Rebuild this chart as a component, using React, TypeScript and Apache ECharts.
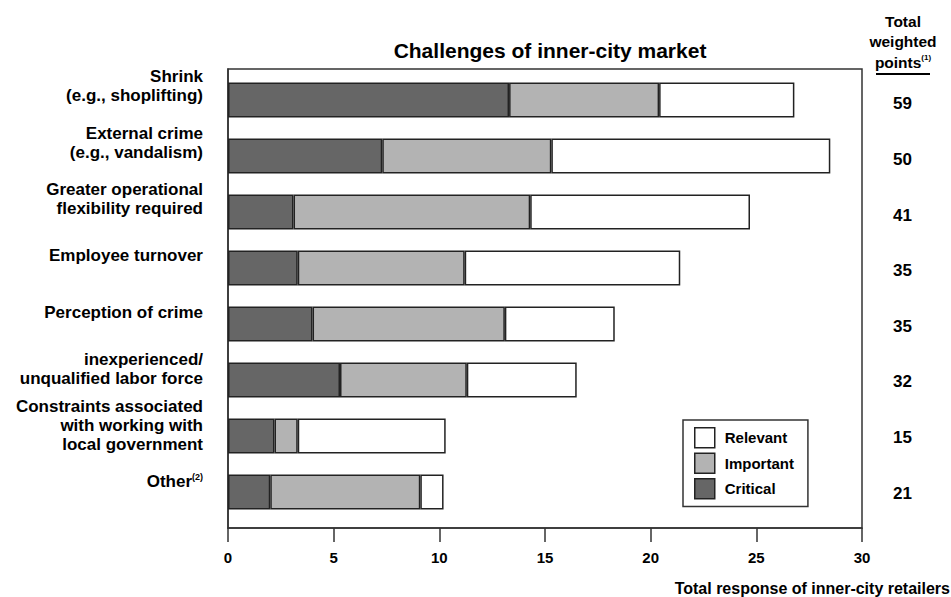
import React, { useEffect, useRef } from "react";
import * as echarts from "echarts";

const categories = [
  "Shrink\n(e.g., shoplifting)",
  "External crime\n(e.g., vandalism)",
  "Greater operational\nflexibility required",
  "Employee turnover",
  "Perception of crime",
  "inexperienced/\nunqualified labor force",
  "Constraints associated\nwith working with\nlocal government",
  "Other{sup|(2)}",
];
const critical = [13.3, 7.3, 3.1, 3.3, 4.0, 5.3, 2.2, 2.0];
const important = [7.1, 8.0, 11.2, 7.9, 9.1, 6.0, 1.1, 7.1];
const relevant = [6.4, 13.2, 10.4, 10.2, 5.2, 5.2, 7.0, 1.1];
const weightedPoints = [59, 50, 41, 35, 35, 32, 15, 21];
const xTicks = { min: 0, max: 30, interval: 5 };

const FONT = "'Liberation Sans', Arial, Helvetica, sans-serif";
const BORDER = "#222";

export default function App() {
  const ref = useRef<HTMLDivElement>(null);
  useEffect(() => {
    if (!ref.current) return;
    const chart = echarts.init(ref.current, undefined, { renderer: "svg" });
    const barStyle = (color: string) => ({
      color,
      borderColor: BORDER,
      borderWidth: 1.5,
    });
    const hiddenX = (gridIndex: number) => ({
      type: "value",
      gridIndex,
      min: xTicks.min,
      max: xTicks.max,
      interval: xTicks.interval,
      show: false,
    });
    const barSeries = (name: string, data: number[], color: string) => ({
      name,
      type: "bar",
      stack: "total",
      barWidth: 35,
      xAxisIndex: 1,
      yAxisIndex: 1,
      data,
      itemStyle: barStyle(color),
    });
    chart.setOption({
      animation: false,
      backgroundColor: "#fff",
      textStyle: { fontFamily: FONT },
      grid: [
        {
          left: 228,
          right: 89,
          top: 69,
          bottom: 69,
          show: true,
          borderColor: "#333",
          borderWidth: 1.5,
        },
        { left: 228, right: 89, top: 72, bottom: 77 },
        { left: 228, right: 89, top: 58, bottom: 87 },
        { left: 228, right: 89, top: 76, bottom: 76 },
      ],
      legend: {
        orient: "vertical",
        left: 683,
        top: 420,
        data: ["Relevant", "Important", "Critical"],
        icon: "rect",
        itemWidth: 20,
        itemHeight: 20,
        itemGap: 4,
        padding: [7, 14, 7, 11],
        borderColor: "#333",
        borderWidth: 1.5,
        backgroundColor: "#fff",
        itemStyle: { borderColor: BORDER, borderWidth: 1.5 },
        textStyle: {
          fontFamily: FONT,
          fontSize: 15,
          fontWeight: "bold",
          color: "#000",
          padding: [0, 0, 0, 5],
        },
      },
      xAxis: [
        {
          type: "value",
          gridIndex: 0,
          min: xTicks.min,
          max: xTicks.max,
          interval: xTicks.interval,
          splitLine: { show: false },
          axisLine: { show: true, lineStyle: { color: "#333", width: 1.5 } },
          axisTick: { show: true, length: 14, lineStyle: { color: "#333", width: 1.5 } },
          axisLabel: {
            margin: 22,
            fontFamily: FONT,
            fontSize: 15,
            fontWeight: "bold",
            color: "#000",
            showMinLabel: true,
            showMaxLabel: true,
          },
        },
        hiddenX(1),
        hiddenX(2),
        hiddenX(3),
      ],
      yAxis: [
        {
          type: "category",
          gridIndex: 0,
          data: categories,
          inverse: true,
          axisLine: { show: true, lineStyle: { color: "#333", width: 1.5 } },
          axisTick: { show: false },
          axisLabel: { show: false },
        },
        {
          type: "category",
          gridIndex: 1,
          data: categories,
          inverse: true,
          axisLine: { show: false },
          axisTick: { show: false },
          axisLabel: { show: false },
        },
        {
          type: "category",
          gridIndex: 2,
          data: categories,
          inverse: true,
          axisLine: { show: false },
          axisTick: { show: false },
          axisLabel: {
            interval: 0,
            showMinLabel: true,
            showMaxLabel: true,
            margin: 25,
            fontFamily: FONT,
            fontSize: 17,
            fontWeight: "bold",
            lineHeight: 19,
            color: "#000",
            align: "right",
            rich: {
              sup: {
                fontFamily: FONT,
                fontSize: 9,
                fontWeight: "bold",
                color: "#000",
                padding: [0, 0, 10, 0],
              },
            },
          },
        },
        {
          type: "category",
          gridIndex: 3,
          data: weightedPoints.map((v) => String(v)),
          inverse: true,
          position: "right",
          axisLine: { show: false },
          axisTick: { show: false },
          axisLabel: {
            interval: 0,
            showMinLabel: true,
            showMaxLabel: true,
            margin: 31,
            fontFamily: FONT,
            fontSize: 17,
            fontWeight: "bold",
            color: "#000",
          },
        },
      ],
      series: [
        barSeries("Critical", critical, "#666666"),
        barSeries("Important", important, "#b3b3b3"),
        barSeries("Relevant", relevant, "#ffffff"),
      ],
      graphic: [
        {
          type: "text",
          x: 550,
          y: 50,
          style: {
            text: "Challenges of inner-city market",
            font: `bold 21px ${FONT}`,
            fill: "#000",
            textAlign: "center",
            textVerticalAlign: "middle",
          },
        },
        {
          type: "text",
          x: 903,
          y: 11,
          style: {
            text: "Total\nweighted\npoints{sup|(1)}",
            fontFamily: FONT,
            fontSize: 15.5,
            fontWeight: "bold",
            lineHeight: 20.5,
            fill: "#000",
            textAlign: "center",
            rich: {
              sup: {
                fontFamily: FONT,
                fontSize: 8,
                fontWeight: "bold",
                fill: "#000",
                padding: [0, 0, 9, 0],
              },
            },
          },
        },
        {
          type: "line",
          shape: { x1: 876, y1: 74, x2: 930, y2: 74 },
          style: { stroke: "#000", lineWidth: 2 },
        },
        {
          type: "text",
          x: 950,
          y: 588,
          style: {
            text: "Total response of inner-city retailers",
            font: `bold 16px ${FONT}`,
            fill: "#000",
            textAlign: "right",
            textVerticalAlign: "middle",
          },
        },
      ],
    });
    return () => chart.dispose();
  }, []);
  return (
    <div
      ref={ref}
      style={{ position: "fixed", left: 0, top: 0, width: 951, height: 597 }}
    />
  );
}
